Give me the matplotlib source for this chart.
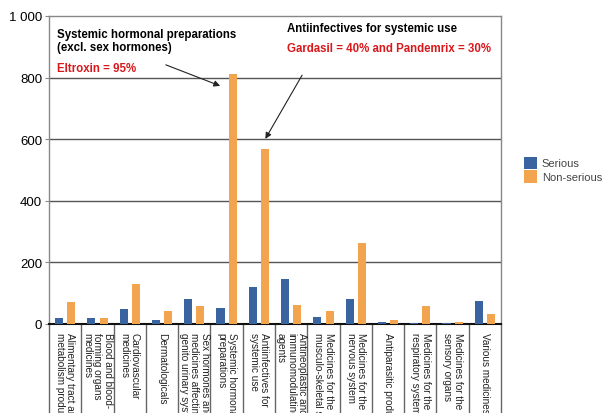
import numpy as np
import matplotlib
matplotlib.use("Agg")
import matplotlib.pyplot as plt
from matplotlib.ticker import FuncFormatter

plt.rcParams['font.family'] = ['Liberation Sans', 'DejaVu Sans']

# data
categories = [
    "Alimentary tract and\nmetabolism products",
    "Blood and blood-\nforming organs\nmedicines",
    "Cardiovascular\nmedicines",
    "Dermatologicals",
    "Sex hormones and\nmedicines affecting the\ngenito urinary system",
    "Systemic hormonal\npreparations",
    "Antiinfectives for\nsystemic use",
    "Antineoplastic and\nimmunomodulating\nagents",
    "Medicines for the\nmusculo-skeletal system",
    "Medicines for the\nnervous system",
    "Antiparasitic products",
    "Medicines for the\nrespiratory system",
    "Medicines for the\nsensory organs",
    "Various medicines",
]
serious = [20, 20, 48, 13, 81, 52, 120, 145, 24, 81, 7, 2, 3, 75]
non_serious = [73, 20, 129, 41, 58, 813, 569, 61, 43, 263, 12, 58, 7, 31]
series_names = ["Serious", "Non-serious"]
yticks = [0, 200, 400, 600, 800, 1000]

blue = '#3a64a0'
orange = '#f2a44f'

fig = plt.figure(figsize=(6.03, 4.14), dpi=100)
ax = fig.add_axes([0.0813, 0.215, 0.7496, 0.744])

x = np.arange(len(categories))
w = 0.25
off = 0.19
ax.bar(x - off, serious, w, color=blue, label=series_names[0], zorder=3)
ax.bar(x + off, non_serious, w, color=orange, label=series_names[1], zorder=3)

ax.set_xlim(-0.5, len(categories) - 0.5)
ax.set_ylim(0, 1000)
ax.set_yticks(yticks)
ax.yaxis.set_major_formatter(FuncFormatter(lambda v, p: f"{int(v):,}".replace(",", " ")))
ax.tick_params(axis='y', labelsize=9.5, length=3, color='#888888', pad=2)
ax.set_xticks([])
for v in yticks[1:-1]:
    ax.axhline(v, color='#555555', lw=1, zorder=1)

for s in ['top', 'right', 'left']:
    ax.spines[s].set_color('#888888')
    ax.spines[s].set_linewidth(1)
ax.spines['bottom'].set_color('#111111')
ax.spines['bottom'].set_linewidth(1.5)

# category separators and labels below the axis (cut off at the bottom like the original)
tr = ax.get_xaxis_transform()
for b in np.arange(len(categories) + 1) - 0.5:
    ax.plot([b, b], [0, -0.5], color='#666666', lw=1, transform=tr, clip_on=False)
for i, lab in enumerate(categories):
    ax.text(i, -0.026, lab, transform=tr, rotation=-90, ha='center', va='top',
            multialignment='left', fontsize=7.2, linespacing=1.05, color='#222222')

ax.legend(loc='upper left', bbox_to_anchor=(0.856, 0.638), bbox_transform=fig.transFigure,
          frameon=False, fontsize=8.0, handlelength=1.2, handleheight=1.3,
          handletextpad=0.4, labelspacing=0.15, labelcolor='#444444',
          borderaxespad=0.3)

# annotations
fig.text(0.0945, 0.930, "Systemic hormonal preparations\n(excl. sex hormones)",
         fontsize=8.3, fontweight='bold', va='top', ha='left', linespacing=1.13)
fig.text(0.0945, 0.833, "Eltroxin = 95%", fontsize=8.3, fontweight='bold',
         color='#d7191c', va='center', ha='left')
fig.text(0.476, 0.930, "Antiinfectives for systemic use", fontsize=8.3,
         fontweight='bold', va='center', ha='left')
fig.text(0.476, 0.882, "Gardasil = 40% and Pandemrix = 30%", fontsize=8.3,
         fontweight='bold', color='#d7191c', va='center', ha='left')

arrow = dict(arrowstyle='-|>', color='#222222', lw=0.8, mutation_scale=9,
             shrinkA=0, shrinkB=0)
ax.annotate("", xy=(5 - 0.2, non_serious[5] - 40), xytext=(0.275, 0.841),
            textcoords='figure fraction', arrowprops=arrow)
ax.annotate("", xy=(6 + 0.2, non_serious[6] + 32), xytext=(0.501, 0.816),
            textcoords='figure fraction', arrowprops=arrow)

fig.savefig("out.png", dpi=100)
